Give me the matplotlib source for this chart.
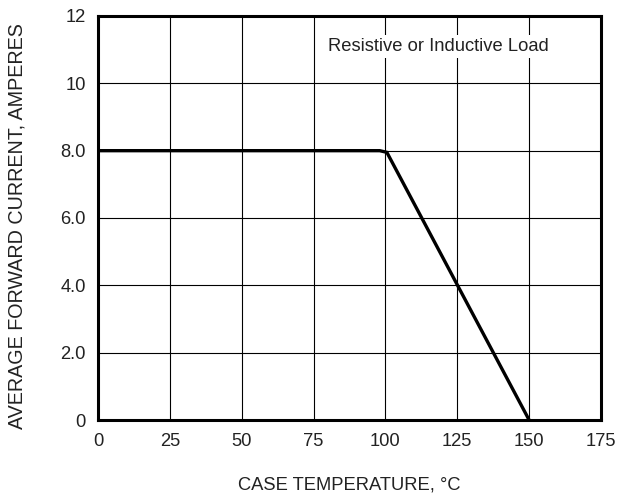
import matplotlib.pyplot as plt

plt.rcParams['font.family'] = ['Liberation Sans', 'DejaVu Sans']

# Derating curve
temp = [0, 98, 100.5, 150]
current = [8.0, 8.0, 7.95, 0]

x_ticks = [0, 25, 50, 75, 100, 125, 150, 175]
x_labels = ['0', '25', '50', '75', '100', '125', '150', '175']
y_ticks = [0, 2, 4, 6, 8, 10, 12]
y_labels = ['0', '2.0', '4.0', '6.0', '8.0', '10', '12']

txt = '#222222'
fs = 13.2

fig = plt.figure(figsize=(6.22, 4.95), dpi=100)
ax = fig.add_axes([0.1576, 0.1515, 0.8086, 0.8162])

ax.plot(temp, current, color='black', linewidth=2.4, solid_joinstyle='miter', zorder=3)

ax.set_xlim(0, 175)
ax.set_ylim(0, 12)
ax.set_xticks(x_ticks)
ax.set_xticklabels(x_labels)
ax.set_yticks(y_ticks)
ax.set_yticklabels(y_labels)
ax.tick_params(length=0, labelsize=fs, labelcolor=txt)
ax.tick_params(axis='x', pad=9)
ax.tick_params(axis='y', pad=9)
ax.grid(True, color='black', linewidth=0.8)
for s in ax.spines.values():
    s.set_linewidth(2.2)
    s.set_zorder(4)

ax.text(80, 11.1, 'Resistive or Inductive Load', fontsize=fs, color=txt,
        ha='left', va='center',
        bbox=dict(facecolor='white', edgecolor='none', pad=2))

ax.set_xlabel('CASE TEMPERATURE, °C', fontsize=fs, color=txt, va='center')
ax.set_ylabel('AVERAGE FORWARD CURRENT, AMPERES', fontsize=14.2, color=txt, va='center')
ax.xaxis.set_label_coords(0.5, -0.161)
ax.yaxis.set_label_coords(-0.161, 0.48)

fig.savefig('out.png', dpi=100)
